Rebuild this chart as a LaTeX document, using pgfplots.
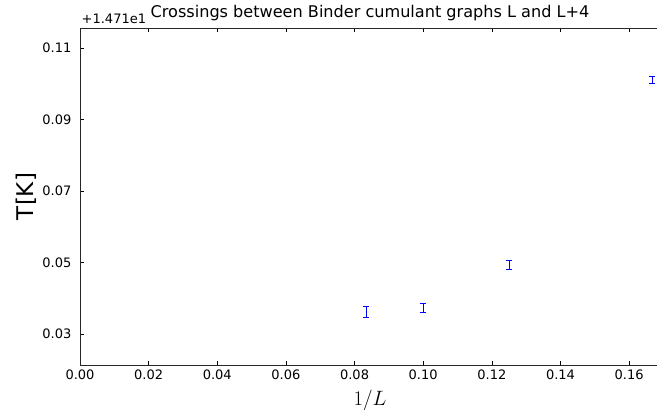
\documentclass[border=0pt]{standalone}
\usepackage{pgfplots}
\pgfplotsset{compat=1.18}
\usepackage{fontspec}
\setmainfont{DejaVu Sans}
\begin{document}
\begin{tikzpicture}
\useasboundingbox (-80pt,-49pt) rectangle (577pt,365pt);
\begin{axis}[
  at={(0pt,0pt)}, anchor=south west,
  scale only axis, width=580pt, height=337pt,
  clip=false,
  xmin=0, xmax=0.169, ymin=0.0213, ymax=0.1156,
  xtick={0,0.02,0.04,0.06,0.08,0.10,0.12,0.14,0.16},
  ytick={0.03,0.05,0.07,0.09,0.11},
  tick align=inside,
  major tick length=4pt,
  xtick pos=both, ytick pos=left,
  axis line style={line width=0.8pt, black!85},
  tick style={line width=0.5pt, black},
  /pgf/number format/assume math mode=true,
  ticklabel style={font=\fontsize{13}{15}\selectfont,
    /pgf/number format/fixed, /pgf/number format/fixed zerofill,
    /pgf/number format/precision=2},
  xticklabel style={anchor=base, inner sep=0pt, yshift=-15pt},
  yticklabel style={anchor=east, inner sep=0pt, xshift=-8.5pt},
  xlabel={$1/L$},
  xlabel style={font=\fontsize{22}{26}\selectfont, at={(axis description cs:0.5,-0.1208)}, anchor=base, inner sep=0pt},
  ylabel={T[K]},
  ylabel style={font=\fontsize{23}{27}\selectfont, at={(axis description cs:-0.0805,0.5)}, anchor=base, inner sep=0pt},
  title={Crossings between Binder cumulant graphs L and L+4},
  title style={font=\fontsize{16.1}{19}\selectfont, at={(axis description cs:0.5,1)}, anchor=base, inner sep=0pt, yshift=4pt},
]
% error bars only; the point marker is shrunk to nothing
\addplot[blue, only marks, mark=*, mark size=0pt,
  mark options={line width=0.3pt},
  error bars/.cd, y dir=both, y explicit,
  error bar style={blue, line width=0.7pt},
  error mark options={blue, rotate=90, mark size=3pt, line width=0.7pt}]
  table[x=x, y=y, y error=e] {
x         y       e
0.083333  0.0362  0.0015
0.100000  0.0373  0.0012
0.125000  0.0494  0.0012
0.166667  0.1010  0.0010
};
\node[anchor=base west, inner sep=0pt, font=\fontsize{13}{15}\selectfont]
  at ([xshift=1.5pt, yshift=4pt]rel axis cs:0,1) {+1.471e1};
\end{axis}
\end{tikzpicture}
\end{document}
